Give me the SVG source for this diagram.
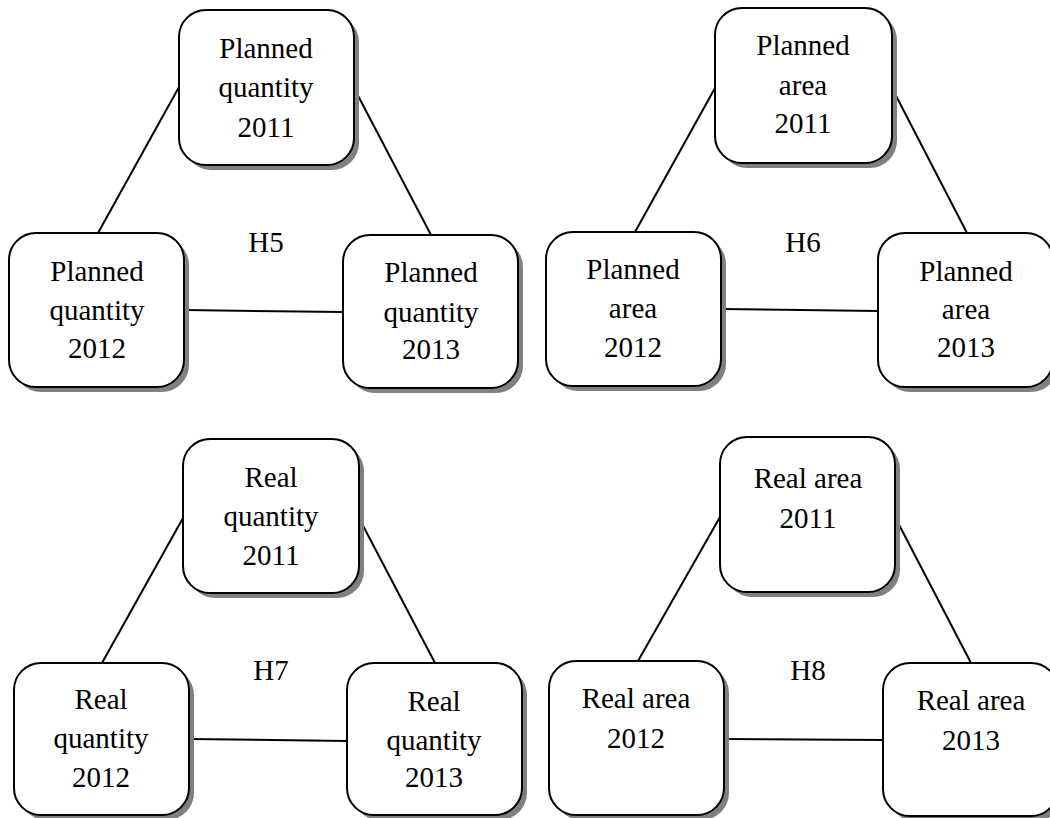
<svg xmlns="http://www.w3.org/2000/svg" width="1050" height="818" viewBox="0 0 1050 818">
<style>
.box{fill:#fff;stroke:#000;stroke-width:2}
.sh{fill:#808080}
.t{font-family:"Liberation Serif","Times New Roman",serif;font-size:29px;fill:#000;text-anchor:middle}
.c line{stroke:#000;stroke-width:2}
</style>
<rect width="1050" height="818" fill="#fff"/>
<g class="c" id="connectors">
<line x1="179" y1="87" x2="98" y2="233"/>
<line x1="354" y1="88" x2="431" y2="235"/>
<line x1="184" y1="310" x2="343" y2="312"/>
<line x1="715" y1="88" x2="635" y2="232"/>
<line x1="892" y1="88" x2="967" y2="233"/>
<line x1="721" y1="309" x2="878" y2="311"/>
<line x1="183" y1="518" x2="102" y2="663"/>
<line x1="359" y1="518" x2="435" y2="663"/>
<line x1="189" y1="739" x2="347" y2="741"/>
<line x1="720" y1="517" x2="638" y2="661"/>
<line x1="895" y1="517" x2="971" y2="663"/>
<line x1="724" y1="739" x2="883" y2="740"/>
</g>
<g id="pq2011"><rect class="sh" x="184" y="15" width="175" height="155" rx="27"/><rect class="box" x="179" y="10" width="175" height="155" rx="27"/><text class="t" x="266" y="58">Planned</text><text class="t" x="266" y="97">quantity</text><text class="t" x="266" y="137">2011</text></g>
<g id="pq2012"><rect class="sh" x="14" y="238" width="175" height="154" rx="27"/><rect class="box" x="9" y="233" width="175" height="154" rx="27"/><text class="t" x="97" y="281">Planned</text><text class="t" x="97" y="320">quantity</text><text class="t" x="97" y="358">2012</text></g>
<g id="pq2013"><rect class="sh" x="348" y="240" width="175" height="153" rx="27"/><rect class="box" x="343" y="235" width="175" height="153" rx="27"/><text class="t" x="431" y="282">Planned</text><text class="t" x="431" y="322">quantity</text><text class="t" x="431" y="359">2013</text></g>
<g id="h5"><text class="t" x="266" y="252">H5</text></g>
<g id="pa2011"><rect class="sh" x="720" y="13" width="177" height="155" rx="27"/><rect class="box" x="715" y="8" width="177" height="155" rx="27"/><text class="t" x="803" y="55">Planned</text><text class="t" x="803" y="95">area</text><text class="t" x="803" y="133">2011</text></g>
<g id="pa2012"><rect class="sh" x="551" y="237" width="175" height="154" rx="27"/><rect class="box" x="546" y="232" width="175" height="154" rx="27"/><text class="t" x="633" y="279">Planned</text><text class="t" x="633" y="318">area</text><text class="t" x="633" y="357">2012</text></g>
<g id="pa2013"><rect class="sh" x="883" y="238" width="175" height="154" rx="27"/><rect class="box" x="878" y="233" width="175" height="154" rx="27"/><text class="t" x="966" y="281">Planned</text><text class="t" x="966" y="319">area</text><text class="t" x="966" y="357">2013</text></g>
<g id="h6"><text class="t" x="803" y="252">H6</text></g>
<g id="rq2011"><rect class="sh" x="188" y="444" width="176" height="154" rx="27"/><rect class="box" x="183" y="439" width="176" height="154" rx="27"/><text class="t" x="271" y="487">Real</text><text class="t" x="271" y="526">quantity</text><text class="t" x="271" y="565">2011</text></g>
<g id="rq2012"><rect class="sh" x="19" y="668" width="175" height="152" rx="27"/><rect class="box" x="14" y="663" width="175" height="152" rx="27"/><text class="t" x="101" y="709">Real</text><text class="t" x="101" y="748">quantity</text><text class="t" x="101" y="787">2012</text></g>
<g id="rq2013"><rect class="sh" x="352" y="668" width="175" height="152" rx="27"/><rect class="box" x="347" y="663" width="175" height="152" rx="27"/><text class="t" x="434" y="711">Real</text><text class="t" x="434" y="750">quantity</text><text class="t" x="434" y="787">2013</text></g>
<g id="h7"><text class="t" x="271" y="680">H7</text></g>
<g id="ra2011"><rect class="sh" x="725" y="442" width="175" height="155" rx="27"/><rect class="box" x="720" y="437" width="175" height="155" rx="27"/><text class="t" x="808" y="488">Real area</text><text class="t" x="808" y="528">2011</text></g>
<g id="ra2012"><rect class="sh" x="554" y="666" width="175" height="154" rx="27"/><rect class="box" x="549" y="661" width="175" height="154" rx="27"/><text class="t" x="636" y="708">Real area</text><text class="t" x="636" y="748">2012</text></g>
<g id="ra2013"><rect class="sh" x="888" y="668" width="175" height="153" rx="27"/><rect class="box" x="883" y="663" width="175" height="153" rx="27"/><text class="t" x="971" y="710">Real area</text><text class="t" x="971" y="750">2013</text></g>
<g id="h8"><text class="t" x="808" y="680">H8</text></g>
</svg>
